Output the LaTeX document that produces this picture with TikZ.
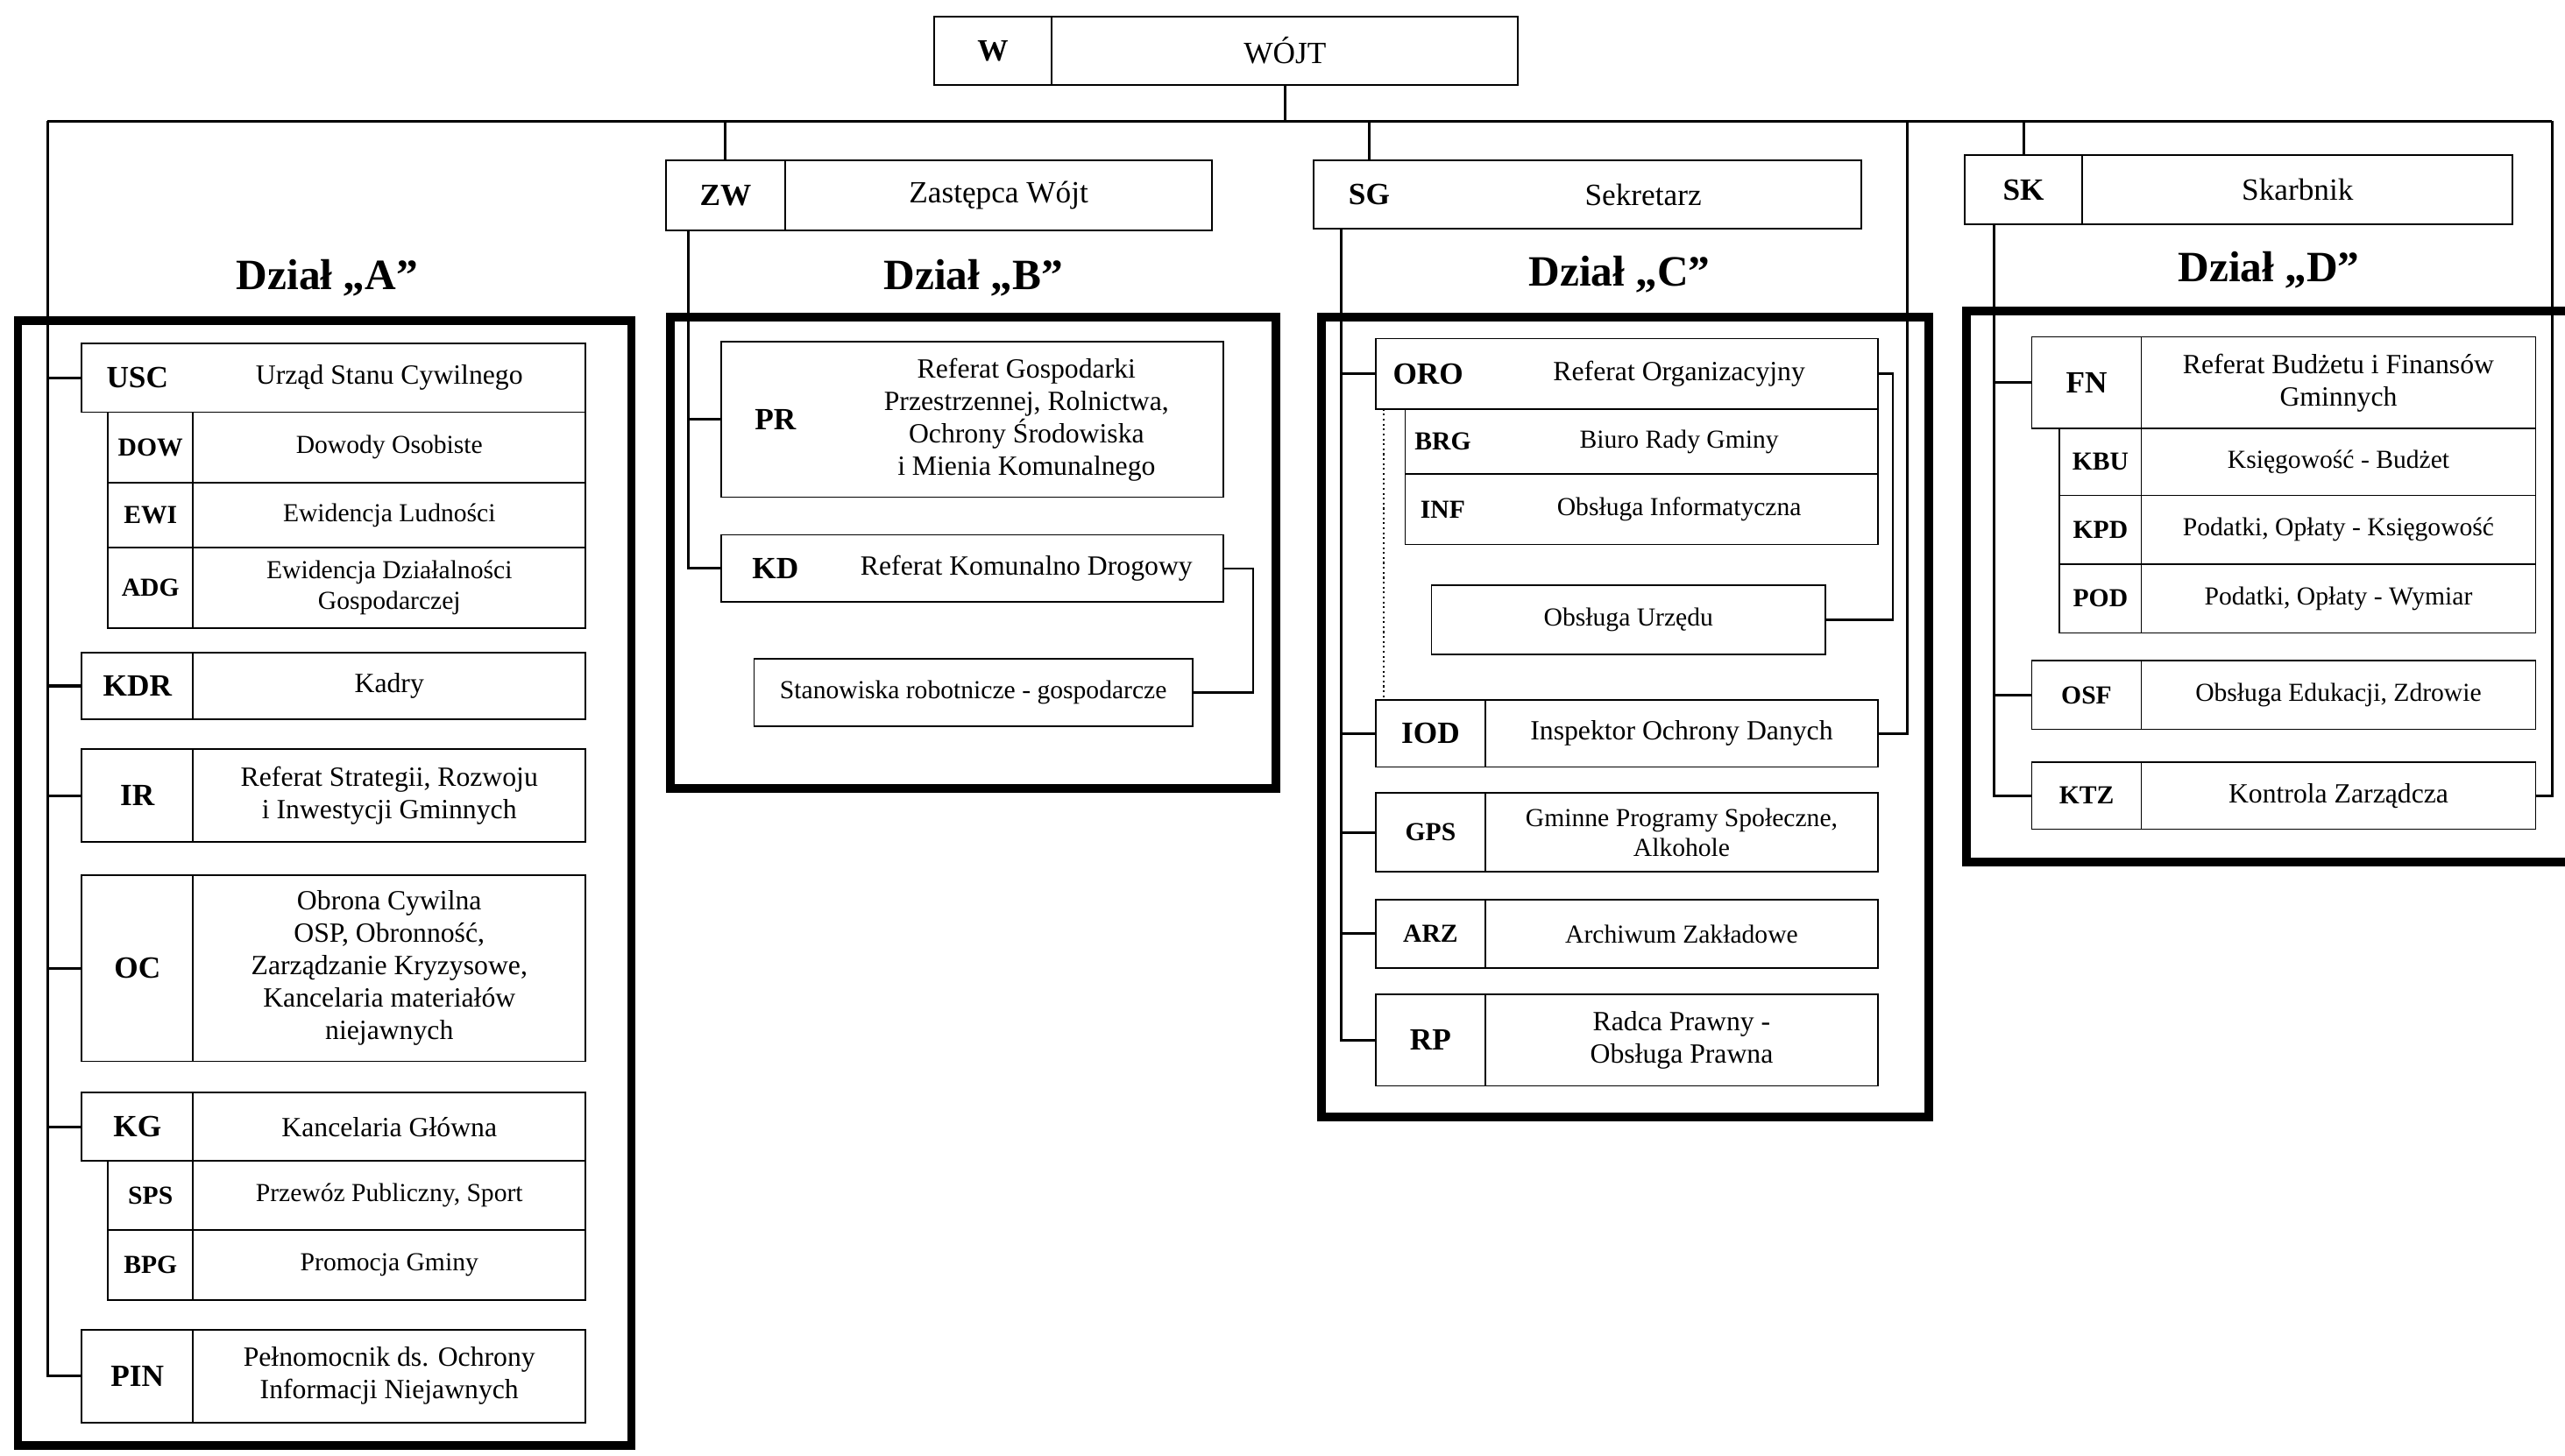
\documentclass[tikz,border=0pt]{standalone}
\usepackage{fontspec}
\setmainfont{Liberation Serif}
\usetikzlibrary{positioning}

\begin{document}
\begin{tikzpicture}[
  x=0.5296pt, y=-0.5296pt,
  font=\fontsize{9}{10.5}\selectfont,
  sz/.style 2 args={minimum width=#1*0.5296pt, minimum height=#2*0.5296pt},
  frame/.style={draw, line width=2.8pt, inner sep=0pt, outer sep=0pt, anchor=north west},
  head/.style={font=\bfseries\fontsize{14}{16}\selectfont},
  unit/.style={draw, line width=0.5pt, inner sep=0pt, outer sep=0pt, align=center, anchor=north west},
  bare/.style={draw=none},
  lead/.style={font=\fontsize{10}{12}\selectfont},
  tag/.style={unit, font=\bfseries\fontsize{10}{12}\selectfont},
  subtag/.style={unit, font=\bfseries\fontsize{8.4}{10}\selectfont},
  subunit/.style={unit, font=\fontsize{8.4}{9.8}\selectfont},
  link/.style={line width=0.9pt},
  tie/.style={line width=0.6pt}
]
  \useasboundingbox (0,0) rectangle (1568,890);

  \node[tag, sz={72}{42}] (w-c) at (571,10) {W};
  \node[unit, lead, sz={285}{42}, right=0pt of w-c] (w-t) {WÓJT};
  \node[tag, sz={73}{43}] (zw-c) at (407,98) {ZW};
  \node[unit, lead, sz={261}{43}, right=0pt of zw-c] (zw-t) {Zastępca Wójt};
  \node[unit, sz={335}{42}] (sg) at (803,98) {};
  \node[tag, bare, sz={68}{42}, right=0pt of sg.west] (sg-c) {SG};
  \node[unit, bare, lead, sz={267}{42}, left=0pt of sg.east] (sg-t) {Sekretarz};
  \node[tag, sz={72}{42}] (sk-c) at (1201,95) {SK};
  \node[unit, lead, sz={263}{42}, right=0pt of sk-c] (sk-t) {Skarbnik};

  \coordinate (mainL) at (29,74);
  \coordinate (mainR) at (1560,74);
  \coordinate (iodUp) at (1166,74);
  \draw[link] (mainL) -- (mainR);
  \draw[link] (w-t.south) -- (w-t.south |- mainL);
  \draw[link] (zw-c.north) -- (zw-c.north |- mainL);
  \draw[link] (sg-c.north) -- (sg-c.north |- mainL);
  \draw[link] (sk-c.north) -- (sk-c.north |- mainL);

  \node[frame, sz={375}{688}] (dzA) at (11,196) {};
  \node[head] (hA) at (200,170) {Dział „A”};
  \node[unit, sz={308}{42}] (usc) at (50,210) {};
  \node[tag, bare, sz={68}{42}, right=0pt of usc.west] (usc-c) {USC};
  \node[unit, bare, sz={240}{42}, left=0pt of usc.east] (usc-t) {Urząd Stanu Cywilnego};
  \node[subtag, sz={52}{43}] (dow-c) at (66,252) {DOW};
  \node[subunit, sz={240}{43}, right=0pt of dow-c] (dow-t) {Dowody Osobiste};
  \node[subtag, sz={52}{40}, below=0pt of dow-c] (ewi-c) {EWI};
  \node[subunit, sz={240}{40}, right=0pt of ewi-c] (ewi-t) {Ewidencja Ludności};
  \node[subtag, sz={52}{49}, below=0pt of ewi-c] (adg-c) {ADG};
  \node[subunit, sz={240}{49}, right=0pt of adg-c] (adg-t) {Ewidencja Działalności\\Gospodarczej};
  \node[tag, sz={68}{41}] (kdr-c) at (50,399) {KDR};
  \node[unit, sz={240}{41}, right=0pt of kdr-c] (kdr-t) {Kadry};
  \node[tag, sz={68}{57}] (ir-c) at (50,458) {IR};
  \node[unit, sz={240}{57}, right=0pt of ir-c] (ir-t) {Referat Strategii, Rozwoju\\i Inwestycji Gminnych};
  \node[tag, sz={68}{114}] (oc-c) at (50,535) {OC};
  \node[unit, sz={240}{114}, right=0pt of oc-c] (oc-t) {Obrona Cywilna\\OSP, Obronność,\\Zarządzanie Kryzysowe,\\Kancelaria materiałów\\niejawnych};
  \node[tag, sz={68}{42}] (kg-c) at (50,668) {KG};
  \node[unit, sz={240}{42}, right=0pt of kg-c] (kg-t) {Kancelaria Główna};
  \node[subtag, sz={52}{42}] (sps-c) at (66,710) {SPS};
  \node[subunit, sz={240}{42}, right=0pt of sps-c] (sps-t) {Przewóz Publiczny, Sport};
  \node[subtag, sz={52}{43}, below=0pt of sps-c] (bpg-c) {BPG};
  \node[subunit, sz={240}{43}, right=0pt of bpg-c] (bpg-t) {Promocja Gminy};
  \node[tag, sz={68}{57}] (pin-c) at (50,813) {PIN};
  \node[unit, sz={240}{57}, right=0pt of pin-c] (pin-t) {Pełnomocnik ds. Ochrony\\Informacji Niejawnych};

  \draw[link] (mainL) |- (pin-c.west);
  \draw[link] (usc.west) -- (usc.west -| mainL);
  \draw[link] (kdr-c.west) -- (kdr-c.west -| mainL);
  \draw[link] (ir-c.west) -- (ir-c.west -| mainL);
  \draw[link] (oc-c.west) -- (oc-c.west -| mainL);
  \draw[link] (kg-c.west) -- (kg-c.west -| mainL);

  \node[frame, sz={370}{288}] (dzB) at (410,194) {};
  \node[head] (hB) at (595,170) {Dział „B”};
  \coordinate (spB) at (421,141);
  \node[unit, sz={307}{95}] (pr) at (441,209) {};
  \node[tag, bare, sz={66}{95}, right=0pt of pr.west] (pr-c) {PR};
  \node[unit, bare, sz={241}{95}, left=0pt of pr.east] (pr-t) {Referat Gospodarki\\Przestrzennej, Rolnictwa,\\Ochrony Środowiska\\i Mienia Komunalnego};
  \node[unit, sz={307}{41}] (kd) at (441,327) {};
  \node[tag, bare, sz={66}{41}, right=0pt of kd.west] (kd-c) {KD};
  \node[unit, bare, sz={241}{41}, left=0pt of kd.east] (kd-t) {Referat Komunalno Drogowy};
  \node[subunit, sz={268}{41}] (srg) at (461,403) {Stanowiska robotnicze - gospodarcze};

  \draw[link] (spB) |- (kd.west);
  \draw[link] (pr.west) -- (pr.west -| spB);
  \draw[tie] (kd.east) -- ++(18,0) |- (srg.east);

  \node[frame, sz={371}{489}] (dzC) at (808,194) {};
  \node[head] (hC) at (990,168) {Dział „C”};
  \coordinate (spC) at (820,140);
  \node[unit, sz={307}{43}] (oro) at (841,207) {};
  \node[tag, bare, sz={64}{43}, right=0pt of oro.west] (oro-c) {ORO};
  \node[unit, bare, sz={243}{43}, left=0pt of oro.east] (oro-t) {Referat Organizacyjny};
  \node[unit, sz={289}{40}] (brg) at (859,250) {};
  \node[subtag, bare, sz={46}{40}, right=0pt of brg.west] (brg-c) {BRG};
  \node[subunit, bare, sz={243}{40}, left=0pt of brg.east] (brg-t) {Biuro Rady Gminy};
  \node[unit, sz={289}{43}, below=0pt of brg] (inf) {};
  \node[subtag, bare, sz={46}{43}, right=0pt of inf.west] (inf-c) {INF};
  \node[subunit, bare, sz={243}{43}, left=0pt of inf.east] (inf-t) {Obsługa Informatyczna};
  \node[subunit, sz={241}{42}] (ou) at (875,358) {Obsługa Urzędu};
  \node[tag, sz={67}{41}] (iod-c) at (841,428) {IOD};
  \node[unit, sz={240}{41}, right=0pt of iod-c] (iod-t) {Inspektor Ochrony Danych};
  \node[subtag, sz={67}{48}] (gps-c) at (841,485) {GPS};
  \node[subunit, sz={240}{48}, right=0pt of gps-c] (gps-t) {Gminne Programy Społeczne,\\Alkohole};
  \node[subtag, sz={67}{42}] (arz-c) at (841,550) {ARZ};
  \node[subunit, sz={240}{42}, right=0pt of arz-c] (arz-t) {Archiwum Zakładowe};
  \node[tag, sz={67}{56}] (rp-c) at (841,608) {RP};
  \node[unit, sz={240}{56}, right=0pt of rp-c] (rp-t) {Radca Prawny -\\Obsługa Prawna};

  \draw[link] (spC) |- (rp-c.west);
  \draw[link] (oro.west) -- (oro.west -| spC);
  \draw[link] (iod-c.west) -- (iod-c.west -| spC);
  \draw[link] (gps-c.west) -- (gps-c.west -| spC);
  \draw[link] (arz-c.west) -- (arz-c.west -| spC);
  \draw[link] (iodUp) |- (iod-t.east);
  \draw[tie] (oro.east) -- ++(9,0) |- (ou.east);
  \draw[tie, densely dotted] ([xshift=2.6pt]oro.south west) -- ([xshift=2.6pt]iod-c.north west);

  \node[frame, sz={400}{337}] (dzD) at (1202,190) {};
  \node[head] (hD) at (1387,165) {Dział „D”};
  \coordinate (spD) at (1219,137);
  \node[tag, sz={67}{56}] (fn-c) at (1242,206) {FN};
  \node[unit, sz={241}{56}, right=0pt of fn-c] (fn-t) {Referat Budżetu i Finansów\\Gminnych};
  \node[subtag, sz={50}{41}] (kbu-c) at (1259,262) {KBU};
  \node[subunit, sz={241}{41}, right=0pt of kbu-c] (kbu-t) {Księgowość - Budżet};
  \node[subtag, sz={50}{42}, below=0pt of kbu-c] (kpd-c) {KPD};
  \node[subunit, sz={241}{42}, right=0pt of kpd-c] (kpd-t) {Podatki, Opłaty - Księgowość};
  \node[subtag, sz={50}{42}, below=0pt of kpd-c] (pod-c) {POD};
  \node[subunit, sz={241}{42}, right=0pt of pod-c] (pod-t) {Podatki, Opłaty - Wymiar};
  \node[subtag, sz={67}{42}] (osf-c) at (1242,404) {OSF};
  \node[subunit, sz={241}{42}, right=0pt of osf-c] (osf-t) {Obsługa Edukacji, Zdrowie};
  \node[subtag, sz={67}{41}] (ktz-c) at (1242,466) {KTZ};
  \node[unit, sz={241}{41}, right=0pt of ktz-c] (ktz-t) {Kontrola Zarządcza};

  \draw[link] (spD) |- (ktz-c.west);
  \draw[link] (fn-c.west) -- (fn-c.west -| spD);
  \draw[link] (osf-c.west) -- (osf-c.west -| spD);
  \draw[link] (mainR) |- (ktz-t.east);
\end{tikzpicture}
\end{document}
